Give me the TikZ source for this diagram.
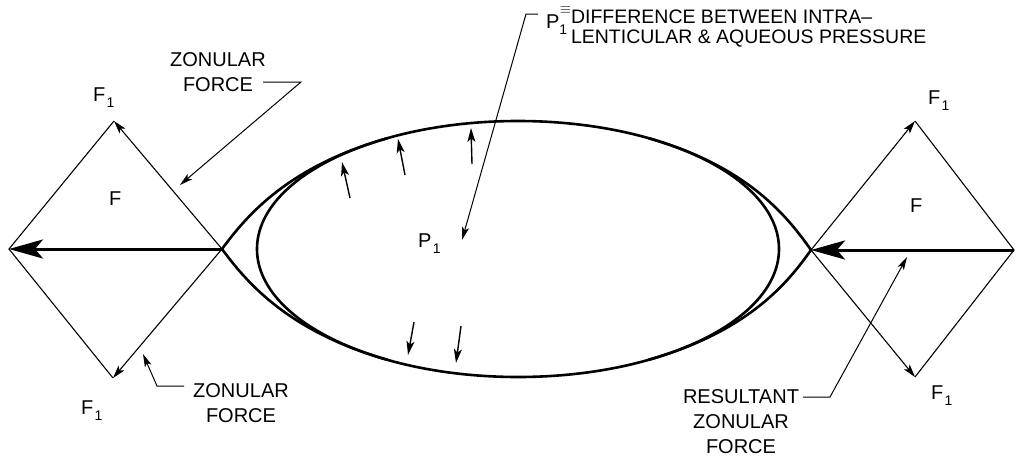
\documentclass[tikz,border=0pt]{standalone}
\usepackage{amsmath}
\usepackage{fontspec}
\setmainfont{Liberation Sans}
\usetikzlibrary{calc,arrows.meta}

% lowered small index, as in F_1 and P_1
\newcommand{\lowidx}[1]{\kern1.5pt\raisebox{-6pt}{\fontsize{14}{14}\selectfont #1}}

\begin{document}
\begin{tikzpicture}[x=1pt, y=-1pt, inner sep=0pt, outer sep=0pt,
    every node/.style={font=\fontsize{20}{25}\selectfont},
    edge line/.style={line width=1.1pt},
    lens line/.style={line width=2.6pt, line join=miter},
    force arrow/.style={line width=1.1pt, -{Stealth[length=13pt,width=7.5pt,inset=3pt]}},
    resultant/.style={line width=3pt, -{Stealth[length=34pt,width=19pt,inset=8pt]}},
    pressure/.style={line width=1.4pt, -{Stealth[length=14pt,width=8pt,inset=3.5pt]}},
    leader/.style={line width=1pt, -{Stealth[length=13pt,width=7pt,inset=3pt]}}]

    \path[use as bounding box, fill=white] (0,0) rectangle (1016,458);

    % lens: inner ellipse and the pointed outer outline
    \coordinate (lcusp) at (222,249);
    \coordinate (rcusp) at (811,250);
    \coordinate (lens_c) at (518,249);
    \draw[lens line] (lens_c) ellipse [x radius=261, y radius=128];
    \draw[lens line] (387.5,138.2) .. controls (286,167) and (245,218) .. (lcusp)
        .. controls (245,280) and (286,331) .. (387.5,359.8);
    \draw[lens line] (648.5,138.2) .. controls (750,167) and (789,219) .. (rcusp)
        .. controls (789,281) and (750,331) .. (648.5,359.8);

    % pressure arrows
    \foreach \xa/\ya/\xb/\yb in {350/198/342/162, 405/175/398/139, 472/164/471/128,
                                 414/322/408/355, 461/326/456/363}
        \draw[pressure] (\xa,\ya) -- (\xb,\yb);

    % left force diamond
    \coordinate (ltop) at (114,121);
    \coordinate (lbot) at (113,378);
    \coordinate (lleft) at (9,249);
    \draw[edge line] (ltop) -- (lleft) -- (lbot);
    \draw[force arrow] (lcusp) -- (ltop);
    \draw[force arrow] (lcusp) -- (lbot);
    \draw[resultant] (lcusp) -- (lleft);

    % right force diamond
    \coordinate (rtop) at (915,121);
    \coordinate (rbot) at (915,377);
    \coordinate (rright) at (1014,250);
    \draw[edge line] (rtop) -- (rright) -- (rbot);
    \draw[force arrow] (rcusp) -- (rtop);
    \draw[force arrow] (rcusp) -- (rbot);
    \draw[resultant] (rright) -- (rcusp);

    % force labels
    \node[anchor=base west] (f1_lt) at (93,101) {F\lowidx{1}};
    \node[anchor=base west] (f_l) at (109,205) {F};
    \node[anchor=base west] (f1_lb) at (81,414) {F\lowidx{1}};
    \node[anchor=base west] (f1_rt) at (928,104) {F\lowidx{1}};
    \node[anchor=base west] (f_r) at (910,212) {F};
    \node[anchor=base west] (f1_rb) at (931,399) {F\lowidx{1}};
    \node[anchor=base west] (p1) at (418,247) {P\lowidx{1}};

    % pressure note (base = last line)
    \node[anchor=base west] (p1_top) at (546,28)
        {P\rlap{\kern0.5pt\raisebox{15pt}{\fontsize{14}{14}\selectfont$\equiv$}}%
         \raisebox{-6pt}{\fontsize{14}{14}\selectfont 1}};
    \node[anchor=base west, align=left, font=\fontsize{19.5}{20.5}\selectfont] (p1_note)
        at (571,43.5) {DIFFERENCE BETWEEN INTRA--\\LENTICULAR \& AQUEOUS PRESSURE};
    \coordinate (pn_a) at (538,14);
    \coordinate (pn_b) at (526,14);
    \coordinate (pn_tip) at (462,240);
    \draw[leader] (pn_a) -- (pn_b) -- (pn_tip);

    % zonular force, upper
    \node[anchor=base, align=center] (zon_up) at (218,91) {ZONULAR\\FORCE};
    \coordinate (zu_a) at (263,82);
    \coordinate (zu_b) at (301,82);
    \coordinate (zu_tip) at (180,185);
    \draw[leader] (zu_a) -- (zu_b) -- (zu_tip);

    % zonular force, lower
    \node[anchor=base, align=center] (zon_lo) at (241,422) {ZONULAR\\FORCE};
    \coordinate (zl_a) at (184,386);
    \coordinate (zl_b) at (157,386);
    \coordinate (zl_tip) at (143,354);
    \draw[leader] (zl_a) -- (zl_b) -- (zl_tip);

    % resultant zonular force
    \node[anchor=base, align=center] (res_zon) at (741,453) {RESULTANT\\ZONULAR\\FORCE};
    \coordinate (rz_a) at (803,397);
    \coordinate (rz_b) at (830,397);
    \coordinate (rz_tip) at (907,257);
    \draw[leader] (rz_a) -- (rz_b) -- (rz_tip);

\end{tikzpicture}
\end{document}
